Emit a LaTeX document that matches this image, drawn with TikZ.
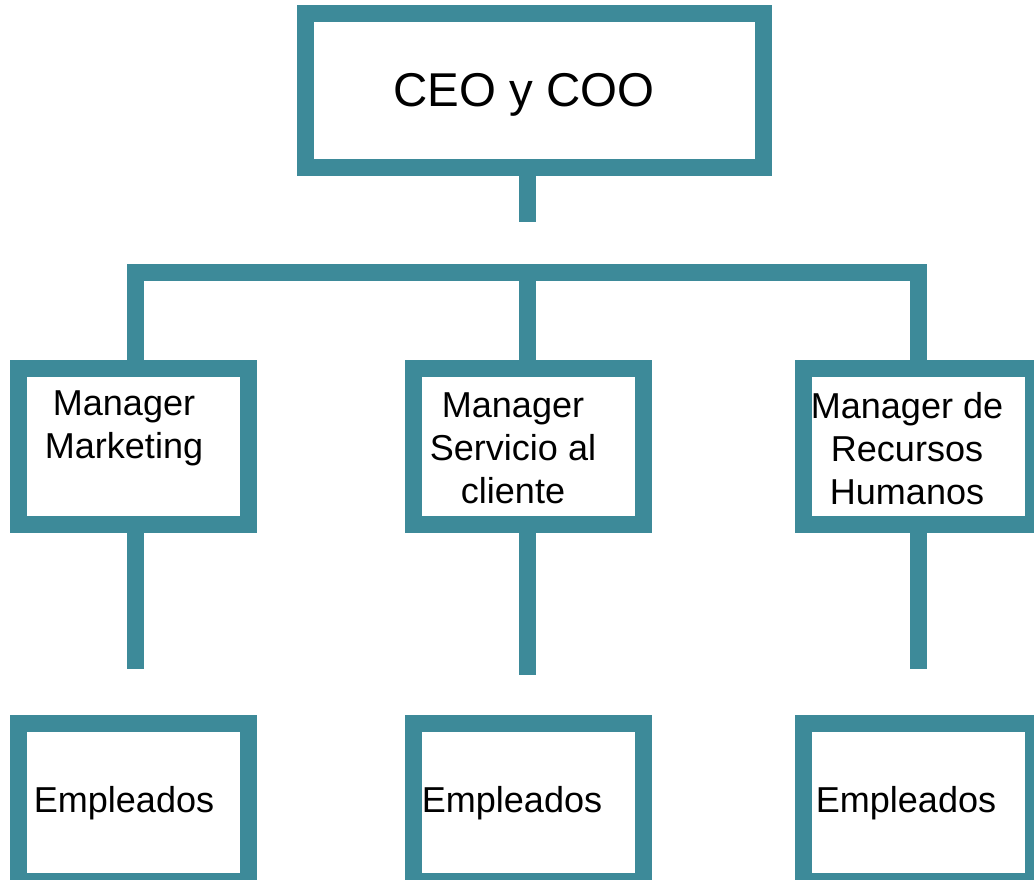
\documentclass[tikz,border=0pt]{standalone}
\usepackage{fontspec}
\setmainfont{Liberation Sans}
\usepackage{xcolor}
\definecolor{orgteal}{RGB}{61,138,153}

\begin{document}
\begin{tikzpicture}[
  box/.style={draw=orgteal,line width=0.34cm,inner sep=0pt,minimum width=4.6cm,minimum height=3.12cm},
  link/.style={draw=orgteal,line width=0.34cm,line join=miter},
  lbl/.style={font=\fontsize{20.5}{24.5}\selectfont,align=center,inner sep=0pt}]

\useasboundingbox (0,0) rectangle (20.68,17.58);
\begin{scope}
\clip (0,0) rectangle (20.68,17.58);

\node[box][minimum width=9.16cm,minimum height=3.08cm] (CEO) at (10.68,15.76) {};
\path (10.48,15.44) node[anchor=base,font=\fontsize{27}{32}\selectfont] (CEOtxt) {CEO y COO};

\node[box] (MGR1) at (2.67,8.65) {};
\node[box] (MGR2) at (10.57,8.65) {};
\node[box] (MGR3) at (18.37,8.65) {};

\path (2.48,9.01) node[lbl] (MGR1txt) {Manager\\Marketing};
\path (10.26,8.61) node[lbl] (MGR2txt) {Manager\\Servicio al\\cliente};
\path (18.14,8.61) node[lbl] (MGR3txt) {Manager de\\Recursos\\Humanos};

\node[box][minimum height=3.16cm] (EMP1) at (2.67,1.53) {};
\node[box][minimum height=3.16cm] (EMP2) at (10.57,1.53) {};
\node[box][minimum height=3.16cm] (EMP3) at (18.37,1.53) {};

\path (2.48,1.34) node[lbl,anchor=base] (EMP1txt) {Empleados};
\path (10.24,1.34) node[lbl,anchor=base] (EMP2txt) {Empleados};
\path (18.12,1.34) node[lbl,anchor=base] (EMP3txt) {Empleados};

%%% connectors
\coordinate (stem) at (10.54,13.14);
\coordinate (bar) at (10.54,12.12);
\draw[link] (CEO.south -| stem) -- (stem);
\draw[link] ([xshift=0.03cm]MGR1.north) -- ([xshift=0.03cm]MGR1.north |- bar)
  -- ([xshift=-0.01cm]MGR3.north |- bar) -- ([xshift=-0.01cm]MGR3.north);
\draw[link] (MGR2.north -| bar) -- (bar);

\coordinate (down1) at (2.7,4.2);
\coordinate (down2) at (10.54,4.08);
\coordinate (down3) at (18.36,4.2);
\draw[link] (MGR1.south -| down1) -- (down1);
\draw[link] (MGR2.south -| down2) -- (down2);
\draw[link] (MGR3.south -| down3) -- (down3);
\end{scope}
\end{tikzpicture}
\end{document}
